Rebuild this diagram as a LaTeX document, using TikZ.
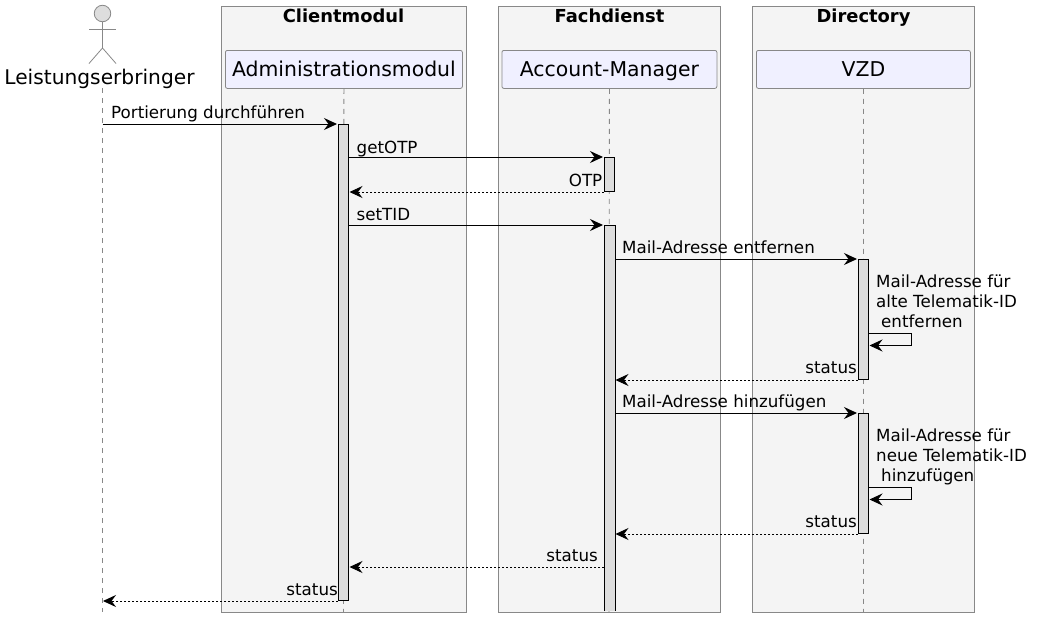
\documentclass[tikz,border=0pt]{standalone}
\usepackage{fontspec}
\setmainfont{DejaVu Sans}
\usetikzlibrary{arrows.meta, positioning, calc}

\definecolor{boxfill}{HTML}{F4F4F4}
\definecolor{boxline}{HTML}{888888}
\definecolor{partfill}{HTML}{F0F0FF}
\definecolor{barfill}{HTML}{DDDDDD}

\tikzset{
    groupbox/.style={draw=boxline, fill=boxfill, line width=1pt, inner sep=0pt, anchor=north west},
    grouptitle/.style={font=\fontsize{17.9}{21}\selectfont\bfseries, anchor=base},
    part/.style={draw=boxline, fill=partfill, rounded corners=2pt, line width=.8pt, inner sep=0pt, anchor=north west, minimum height=38pt, text height=18pt, text depth=4pt, font=\fontsize{20.4}{24}\selectfont},
    lifeline/.style={draw=boxline, line width=.8pt, dash pattern=on 5pt off 5pt},
    bar/.style={draw=black, fill=barfill, line width=1pt, inner sep=0pt, minimum width=10pt, anchor=north},
    msg/.style={-{Stealth[length=13pt,width=12pt,inset=4.5pt]}, black, line width=1pt, shorten >=1pt},
    reply/.style={msg, dash pattern=on 2pt off 2pt, shorten >=.5pt},
    msglabel/.style={font=\fontsize{16.7}{20}\selectfont, anchor=base west, inner sep=0pt},
    replylabel/.style={font=\fontsize{16.7}{20}\selectfont, anchor=base east, inner sep=0pt},
}

\begin{document}
\begin{tikzpicture}[x=1pt, y=-1pt]
    \useasboundingbox (0,0) rectangle (1037,624);

    % Group boxes
    \node (clientbox) [groupbox, minimum width=244.5pt, minimum height=605.5pt] at (221,6) {};
    \node (fachbox) [groupbox, minimum width=222pt, minimum height=605.5pt] at (498,6) {};
    \node (dirbox) [groupbox, minimum width=222pt, minimum height=605.5pt] at (752,6) {};
    \node (clienttitle) [grouptitle] at (343.5,22.5) {Clientmodul};
    \node (fachtitle) [grouptitle] at (609.5,22.5) {Fachdienst};
    \node (dirtitle) [grouptitle] at (863.5,22.5) {Directory};

    % Participants
    \node (admin) [part, minimum width=237pt] at (225,50) {Administrationsmodul};
    \node (account) [part, minimum width=215pt] at (501.5,50) {Account-Manager};
    \node (vzd) [part, minimum width=214pt] at (756,50) {VZD};

    % Actor
    \node (head) [circle, draw=boxline, fill=barfill, line width=.8pt, minimum size=16.5pt, inner sep=0pt] at (102.5,13.5) {};
    \coordinate (hip) at (102.5,48);
    \coordinate (armL) at (89,29.5);
    \coordinate (armR) at (116,29.5);
    \coordinate (legL) at (89,63.5);
    \coordinate (legR) at (116,63.5);
    \draw[boxline, line width=.8pt] (head.south) -- (hip);
    \draw[boxline, line width=.8pt] (armL) -- (armR);
    \draw[boxline, line width=.8pt] (legL) -- (hip) -- (legR);
    \node (actor) [font=\fontsize{20.2}{24}\selectfont, anchor=base] at (99.5,84) {Leistungserbringer};

    % Lifelines
    \coordinate (lactor) at (102.5,88);
    \coordinate (eactor) at (102.5,612);
    \coordinate (eadmin) at (343.5,612);
    \coordinate (eaccount) at (609,612);
    \coordinate (evzd) at (863.5,612);
    \draw[lifeline] (lactor) -- (eactor);
    \draw[lifeline] (admin.south) -- (eadmin);
    \draw[lifeline] (account.south) -- (eaccount);
    \draw[lifeline] (vzd.south) -- (evzd);

    % Activation bars
    \node (a1) [bar, minimum height=476pt] at (343.5,124) {};
    \node (o1) [bar, minimum height=34pt] at (609.5,157) {};
    \node (t1) [bar, draw=none, minimum height=385pt] at (609.5,225) {};
    \draw[line width=1pt] (t1.south west) -- (t1.north west) -- (t1.north east) -- (t1.south east);
    \node (v1) [bar, minimum height=120pt] at (863.5,259) {};
    \node (v2) [bar, minimum height=120pt] at (863.5,413) {};

    % Messages
    \draw[msg] (lactor |- a1.north) to (a1.north west);
    \draw[msg] (a1.east |- o1.north) to (o1.north west);
    \draw[reply] (o1.south west) to (a1.east |- o1.south);
    \draw[msg] (a1.east |- t1.north) to (t1.north west);
    \draw[msg] (t1.east |- v1.north) to (v1.north west);
    \coordinate (s1) at ($(v1.east |- 0,333)$);
    \coordinate (s2) at ($(v1.east |- 0,345.5)$);
    \draw[msg, shorten >=.5pt] (s1) -- ++(42.5,0) |- (s2);
    \draw[reply] (v1.south west) to (t1.east |- v1.south);
    \draw[msg] (t1.east |- v2.north) to (v2.north west);
    \coordinate (s3) at ($(v2.east |- 0,487)$);
    \coordinate (s4) at ($(v2.east |- 0,499.5)$);
    \draw[msg, shorten >=.5pt] (s3) -- ++(42.5,0) |- (s4);
    \draw[reply] (v2.south west) to (t1.east |- v2.south);
    \coordinate (r1) at ($(t1.west |- 0,567)$);
    \draw[reply] (r1) to (a1.east |- r1);
    \draw[reply] (a1.south west) to (lactor |- a1.south);

    % Labels
    \node (lportierung) [msglabel] at (111,118) {Portierung durchführen};
    \node (lgetotp) [msglabel] at (356.5,153) {getOTP};
    \node (lotp) [replylabel] at (602.5,186) {OTP};
    \node (lsettid) [msglabel] at (356.5,220) {setTID};
    \node (lentf) [msglabel] at (622,253) {Mail-Adresse entfernen};
    \node (lentf2) [msglabel, align=left] at (876,327) {Mail-Adresse für\\alte Telematik-ID\\\hspace{5pt}entfernen};
    \node (lst1) [replylabel] at (857,373) {status};
    \node (lhinz) [msglabel] at (622,407.5) {Mail-Adresse hinzufügen};
    \node (lhinz2) [msglabel, align=left] at (876,481) {Mail-Adresse für\\neue Telematik-ID\\\hspace{5pt}hinzufügen};
    \node (lst2) [replylabel] at (857,527) {status};
    \node (lst3) [replylabel] at (598,561) {status};
    \node (lst4) [replylabel] at (338,595) {status};
\end{tikzpicture}
\end{document}
